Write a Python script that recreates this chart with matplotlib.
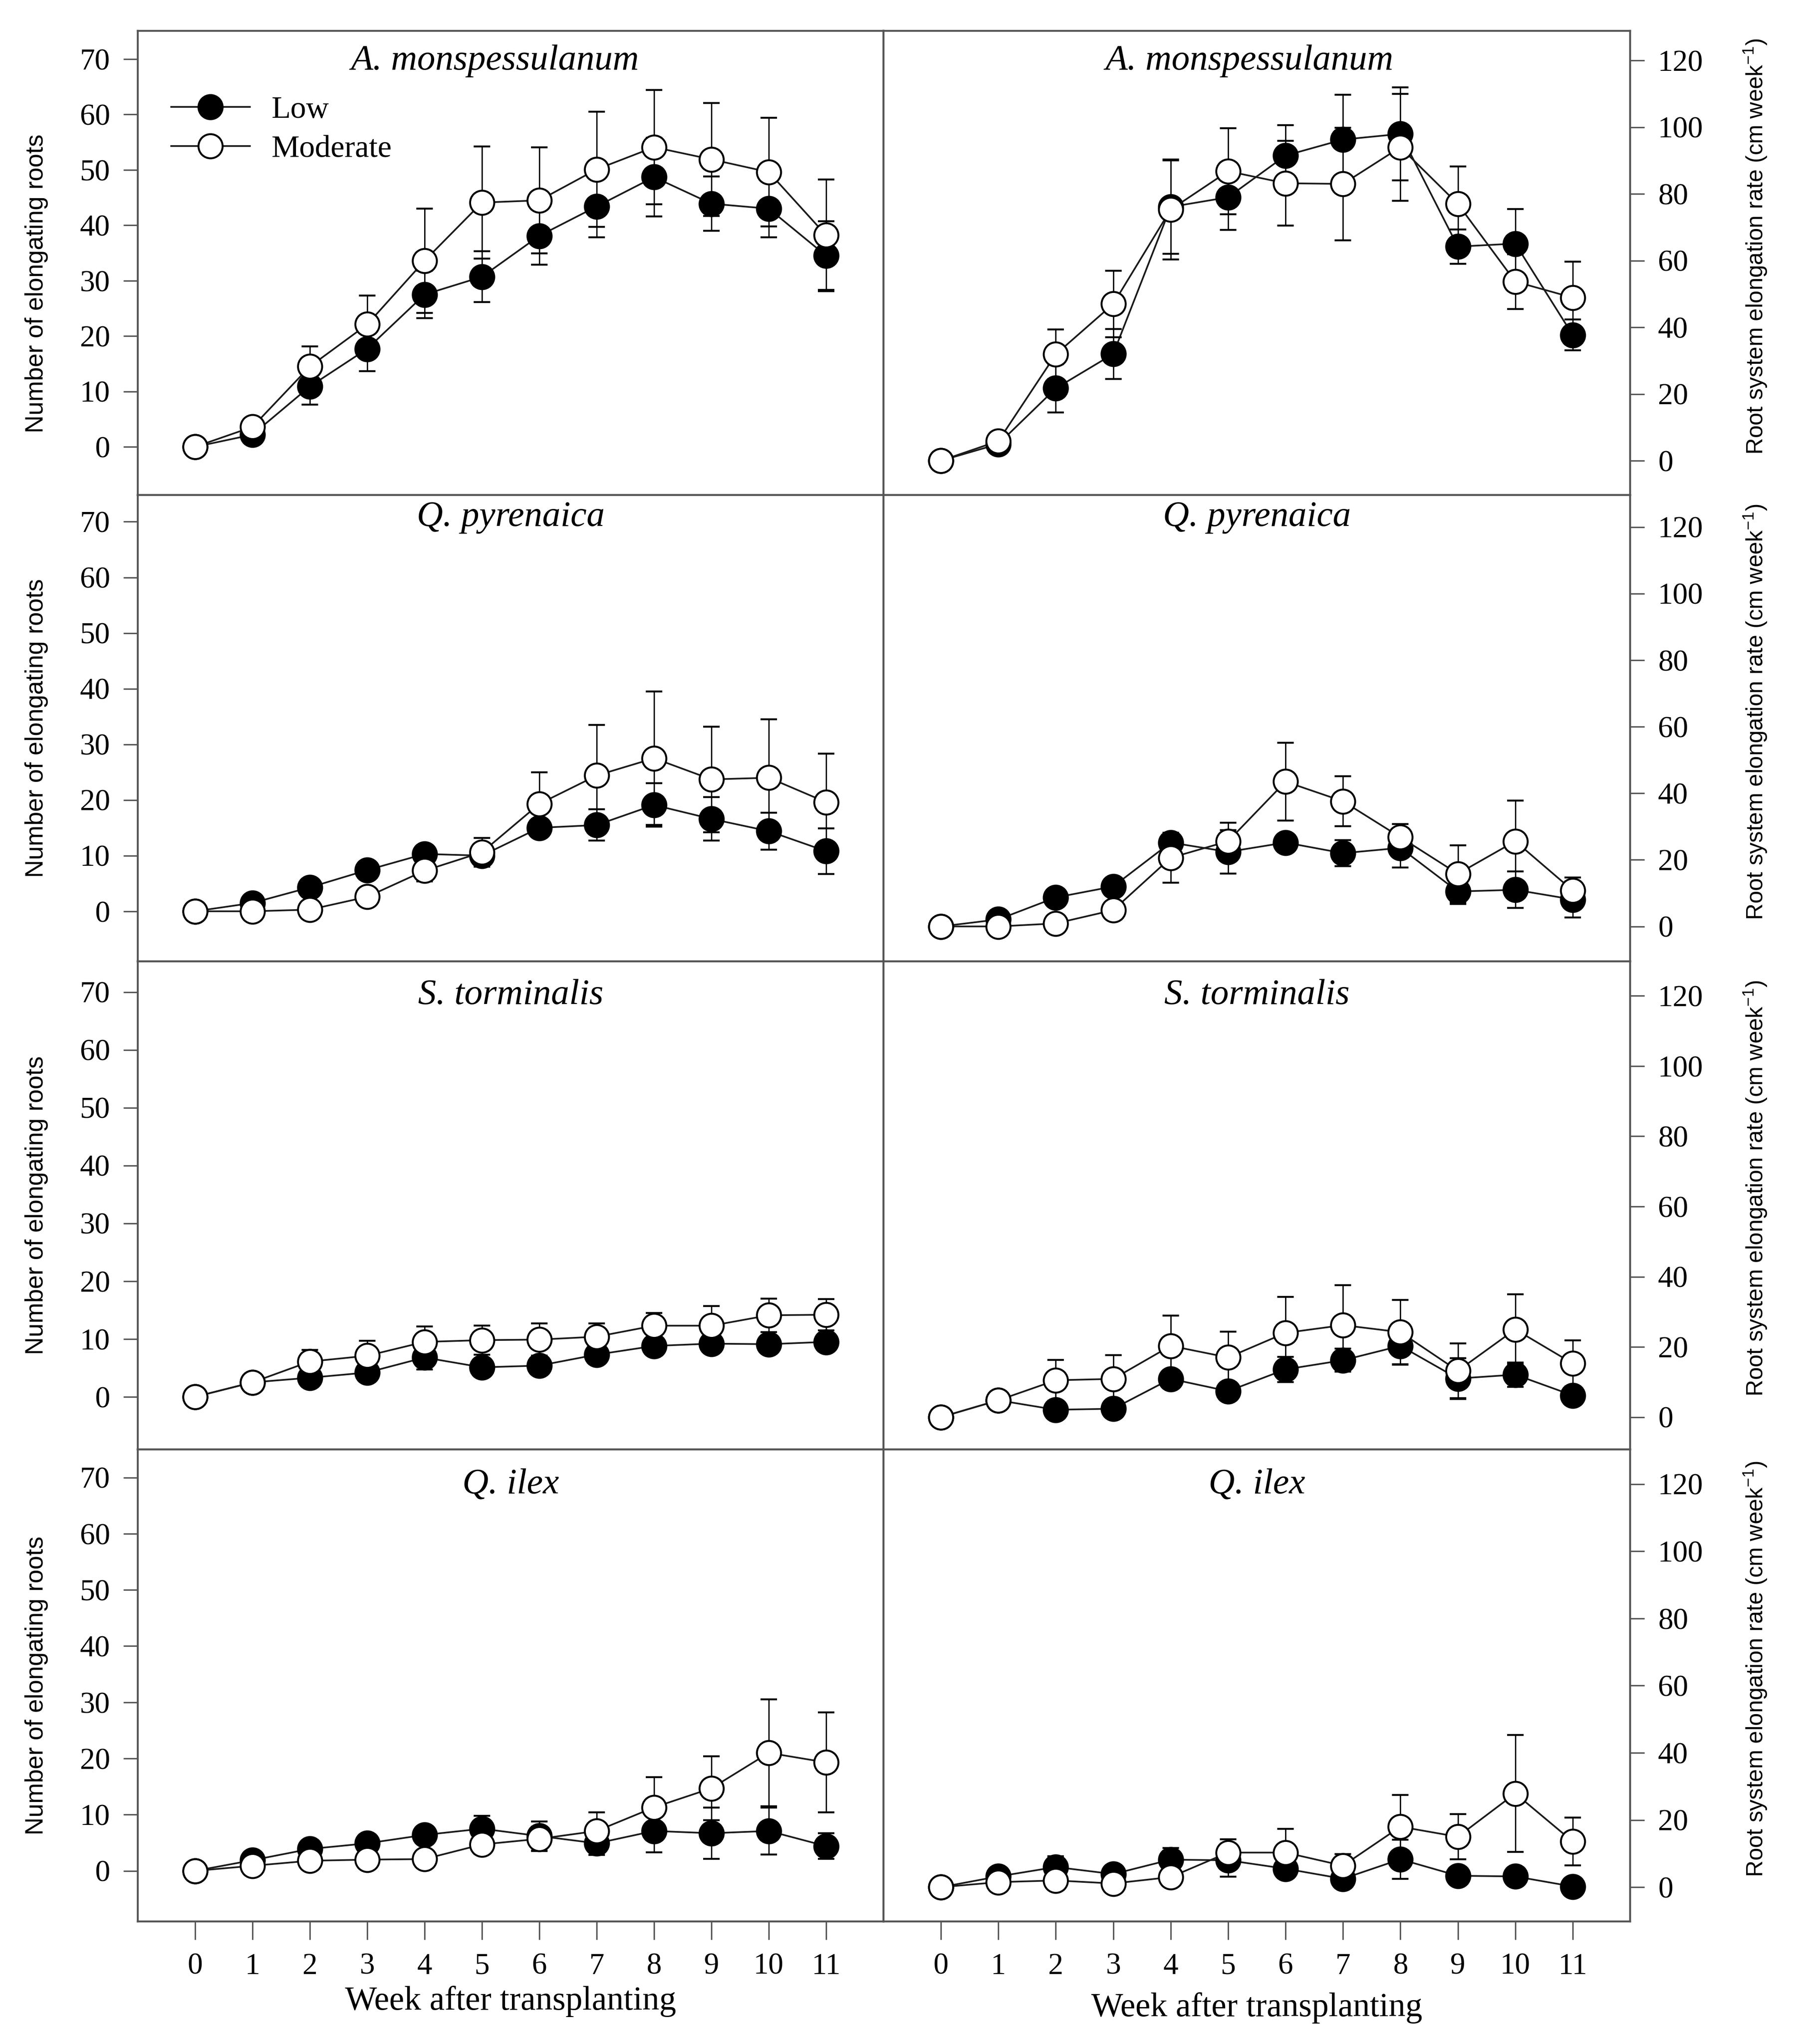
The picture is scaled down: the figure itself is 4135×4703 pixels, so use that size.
import matplotlib
matplotlib.use("Agg")
import matplotlib.pyplot as plt
import numpy as np

plt.rcParams['font.family'] = ['Liberation Serif', 'DejaVu Serif']
plt.rcParams['mathtext.fontset'] = 'custom'
plt.rcParams['mathtext.rm'] = 'Liberation Sans'
plt.rcParams['mathtext.it'] = 'Liberation Sans:italic'

# ---------------- data ----------------
weeks = list(range(12))
week_labels = [str(w) for w in weeks]
species = ["A. monspessulanum", "Q. pyrenaica", "S. torminalis", "Q. ilex"]
treatments = ["Low", "Moderate"]

# Number of elongating roots (left column)
amon_num_low = [0, 2.2, 10.9, 17.7, 27.5, 30.7, 38.1, 43.4, 48.7, 43.9, 43.0, 34.5]
amon_num_low_se = [0, 0.5, 3.3, 4.0, 4.3, 4.6, 5.2, 5.6, 7.1, 4.9, 5.2, 6.2]
amon_num_mod = [0, 3.6, 14.5, 22.1, 33.6, 44.1, 44.5, 50.1, 54.1, 51.9, 49.6, 38.2]
amon_num_mod_se = [0, 0.5, 3.6, 5.2, 9.4, 10.1, 9.6, 10.4, 10.3, 10.2, 9.8, 10.1]

qpyr_num_low = [0, 1.5, 4.3, 7.4, 10.3, 10.0, 15.0, 15.5, 19.1, 16.6, 14.4, 10.8]
qpyr_num_low_se = [0, 0.3, 0.5, 0.6, 1.0, 2.0, 1.5, 2.8, 3.9, 3.9, 3.3, 4.1]
qpyr_num_mod = [0, 0.0, 0.3, 2.6, 7.3, 10.6, 19.3, 24.4, 27.5, 23.7, 24.0, 19.6]
qpyr_num_mod_se = [0, 0.0, 0.3, 0.5, 1.9, 2.6, 5.7, 9.1, 12.0, 9.5, 10.5, 8.7]

stor_num_low = [0, 2.5, 3.3, 4.2, 6.8, 5.1, 5.4, 7.3, 8.8, 9.2, 9.1, 9.5]
stor_num_low_se = [0, 0.3, 0.5, 0.6, 2.1, 1.0, 1.0, 0.8, 0.8, 0.8, 0.8, 0.8]
stor_num_mod = [0, 2.5, 6.1, 7.1, 9.5, 9.8, 9.9, 10.4, 12.3, 12.3, 14.1, 14.2]
stor_num_mod_se = [0, 0.3, 2.0, 2.6, 2.7, 2.5, 2.8, 2.3, 2.2, 3.4, 2.9, 2.7]

qilex_num_low = [0, 1.9, 3.9, 4.9, 6.4, 7.5, 6.2, 4.9, 7.1, 6.7, 7.1, 4.4]
qilex_num_low_se = [0, 0.4, 0.6, 0.6, 0.8, 2.3, 2.6, 2.1, 3.8, 4.6, 4.2, 2.3]
qilex_num_mod = [0, 0.9, 1.8, 2.0, 2.1, 4.7, 5.7, 7.1, 11.3, 14.7, 21.0, 19.3]
qilex_num_mod_se = [0, 0.3, 0.4, 0.4, 0.4, 1.7, 2.2, 3.3, 5.4, 5.7, 9.5, 8.9]

# Root system elongation rate (right column)
amon_rate_low = [0, 5.0, 21.7, 32.0, 76.1, 79.0, 91.5, 96.3, 98.0, 64.2, 65.1, 37.7]
amon_rate_low_se = [0, 1.0, 7.2, 7.5, 14.0, 9.8, 9.1, 13.5, 14.0, 5.1, 10.3, 4.6]
amon_rate_mod = [0, 5.9, 31.9, 47.0, 75.3, 86.8, 83.2, 83.0, 94.0, 77.0, 53.7, 48.9]
amon_rate_mod_se = [0, 1.0, 7.4, 10.0, 15.0, 12.9, 12.7, 16.9, 16.0, 11.2, 8.2, 10.8]

qpyr_rate_low = [0, 2.1, 8.7, 12.0, 25.2, 22.4, 25.2, 22.0, 23.6, 10.5, 11.0, 8.1]
qpyr_rate_low_se = [0, 0.5, 0.8, 1.0, 2.7, 6.5, 2.0, 3.9, 5.9, 3.8, 5.5, 5.4]
qpyr_rate_mod = [0, 0.0, 0.9, 4.9, 20.6, 25.6, 43.5, 37.6, 26.8, 15.8, 25.6, 10.8]
qpyr_rate_mod_se = [0, 0.0, 0.5, 1.0, 7.5, 5.5, 11.7, 7.5, 3.9, 8.5, 12.2, 3.9]

stor_rate_low = [0, 4.8, 2.1, 2.4, 10.9, 7.4, 13.6, 16.2, 20.3, 11.0, 12.1, 6.2]
stor_rate_low_se = [0, 1.0, 1.0, 1.0, 2.4, 2.5, 3.6, 3.3, 5.4, 5.8, 3.5, 2.0]
stor_rate_mod = [0, 4.8, 10.5, 10.9, 20.3, 17.0, 24.0, 26.2, 24.2, 13.2, 25.0, 15.3]
stor_rate_mod_se = [0, 2.0, 5.8, 6.7, 8.6, 7.3, 10.3, 11.4, 9.2, 7.8, 10.0, 6.6]

qilex_rate_low = [0, 3.2, 6.0, 3.9, 8.2, 8.0, 5.5, 2.5, 8.3, 3.4, 3.2, 0.2]
qilex_rate_low_se = [0, 0.5, 3.2, 0.8, 3.5, 4.9, 2.8, 1.9, 5.8, 1.0, 1.0, 0.8]
qilex_rate_mod = [0, 1.5, 2.0, 1.1, 3.0, 10.3, 10.3, 6.4, 18.0, 15.0, 27.9, 13.6]
qilex_rate_mod_se = [0, 0.3, 0.5, 0.5, 0.5, 3.9, 7.0, 3.5, 9.4, 6.7, 17.4, 7.1]

num_ticks = [0, 10, 20, 30, 40, 50, 60, 70]
rate_ticks = [0, 20, 40, 60, 80, 100, 120]

num_data = [
    (amon_num_low, amon_num_low_se, amon_num_mod, amon_num_mod_se),
    (qpyr_num_low, qpyr_num_low_se, qpyr_num_mod, qpyr_num_mod_se),
    (stor_num_low, stor_num_low_se, stor_num_mod, stor_num_mod_se),
    (qilex_num_low, qilex_num_low_se, qilex_num_mod, qilex_num_mod_se),
]
rate_data = [
    (amon_rate_low, amon_rate_low_se, amon_rate_mod, amon_rate_mod_se),
    (qpyr_rate_low, qpyr_rate_low_se, qpyr_rate_mod, qpyr_rate_mod_se),
    (stor_rate_low, stor_rate_low_se, stor_rate_mod, stor_rate_mod_se),
    (qilex_rate_low, qilex_rate_low_se, qilex_rate_mod, qilex_rate_mod_se),
]

# ---------------- layout ----------------
W, H = 4135, 4703
fig = plt.figure(figsize=(W / 100, H / 100), dpi=100)
fig.patch.set_facecolor('white')

x_left, x_mid, x_right = 317, 2033, 3751
row_edges = [(71, 1139), (1139, 2212), (2212, 3335), (3335, 4421)]
left_ylims = [(-8.7, 75.1), (-9.0, 74.8), (-9.1, 75.3), (-9.0, 75.0)]
right_ylims = [(-10.3, 128.9), (-10.5, 129.6), (-9.2, 129.8), (-10.2, 130.3)]
title_y = [0.935, 0.952, 0.93, 0.925]
title_x_left = [0.479, 0.5, 0.5, 0.5]
title_x_right = [0.49, 0.5, 0.5, 0.5]
left_label_y = [0.456, 0.5, 0.5, 0.5]

SPINE_C = '#555555'
LINE_C = '#1a1a1a'
TICK_FS = 50
TITLE_FS = 60
LEFT_LABEL_FS = 41
RIGHT_LABEL_FS = 38
XLABEL_FS = 56


def make_ax(px0, px1, top, bottom):
    return fig.add_axes([px0 / W, 1 - bottom / H, (px1 - px0) / W, (bottom - top) / H])


def draw_series(ax, low, low_se, mod, mod_se):
    common = dict(fmt='-o', color=LINE_C, ecolor='black', lw=2.8, ms=40,
                  mec='black', mew=3.2, elinewidth=2.2, capsize=14, capthick=2.2)
    c1 = ax.errorbar(weeks, low, yerr=low_se, mfc='black', zorder=2, label=treatments[0], **common)
    c2 = ax.errorbar(weeks, mod, yerr=mod_se, mfc='white', zorder=3, label=treatments[1], **common)
    return c1, c2


def style_ax(ax, side, bottom_row):
    for s in ax.spines.values():
        s.set_color(SPINE_C)
        s.set_linewidth(3.2)
    ax.set_xlim(-1, 12)
    ax.tick_params(axis='both', which='both', direction='out', length=24, width=2.4,
                   color=SPINE_C, labelsize=TICK_FS, pad=22)
    if side == 'left':
        ax.tick_params(axis='y', left=True, right=False, labelleft=True, labelright=False)
    else:
        ax.tick_params(axis='y', left=False, right=True, labelleft=False, labelright=True)
    ax.set_xticks(weeks)
    if bottom_row:
        ax.set_xticklabels(week_labels)
        ax.tick_params(axis='x', bottom=True, top=False, labelbottom=True, length=30, pad=22)
    else:
        ax.tick_params(axis='x', bottom=False, top=False, labelbottom=False)


for r in range(4):
    top, bottom = row_edges[r]
    bottom_row = (r == 3)

    # left column: number of elongating roots
    axl = make_ax(x_left, x_mid, top, bottom)
    c_low, c_mod = draw_series(axl, *num_data[r])
    style_ax(axl, 'left', bottom_row)
    axl.set_ylim(*left_ylims[r])
    axl.set_yticks(num_ticks)
    axl.text(title_x_left[r], title_y[r], species[r], transform=axl.transAxes, ha='center',
             va='center', fontsize=TITLE_FS, style='italic')
    axl.set_ylabel("Number of elongating roots", family='Liberation Sans', fontsize=LEFT_LABEL_FS,
                   va='center')
    axl.yaxis.set_label_coords(-0.136, left_label_y[r])
    if bottom_row:
        axl.set_xlabel("Week after transplanting", fontsize=XLABEL_FS, va='center')
        axl.xaxis.set_label_coords(0.5, -0.169)
    if r == 0:
        axl.legend([c_low[0], c_mod[0]], treatments, loc='upper left',
                   bbox_to_anchor=(0.045, 0.86), frameon=False,
                   fontsize=52, handlelength=2.5, handletextpad=0.7, labelspacing=0.34,
                   borderaxespad=0, borderpad=0)

    # right column: root system elongation rate
    axr = make_ax(x_mid, x_right, top, bottom)
    draw_series(axr, *rate_data[r])
    style_ax(axr, 'right', bottom_row)
    axr.set_ylim(*right_ylims[r])
    axr.set_yticks(rate_ticks)
    axr.text(title_x_right[r], title_y[r], species[r], transform=axr.transAxes, ha='center',
             va='center', fontsize=TITLE_FS, style='italic')
    axr.yaxis.set_label_position('right')
    axr.set_ylabel(r"Root system elongation rate (cm week$^{-1}$)", family='Liberation Sans',
                   fontsize=RIGHT_LABEL_FS, va='center', rotation=90)
    axr.yaxis.set_label_coords(1.168, 0.535)
    if bottom_row:
        axr.set_xlabel("Week after transplanting", fontsize=XLABEL_FS, va='center')
        axr.xaxis.set_label_coords(0.5, -0.183)

fig.savefig("out.png", dpi=100, facecolor='white')
